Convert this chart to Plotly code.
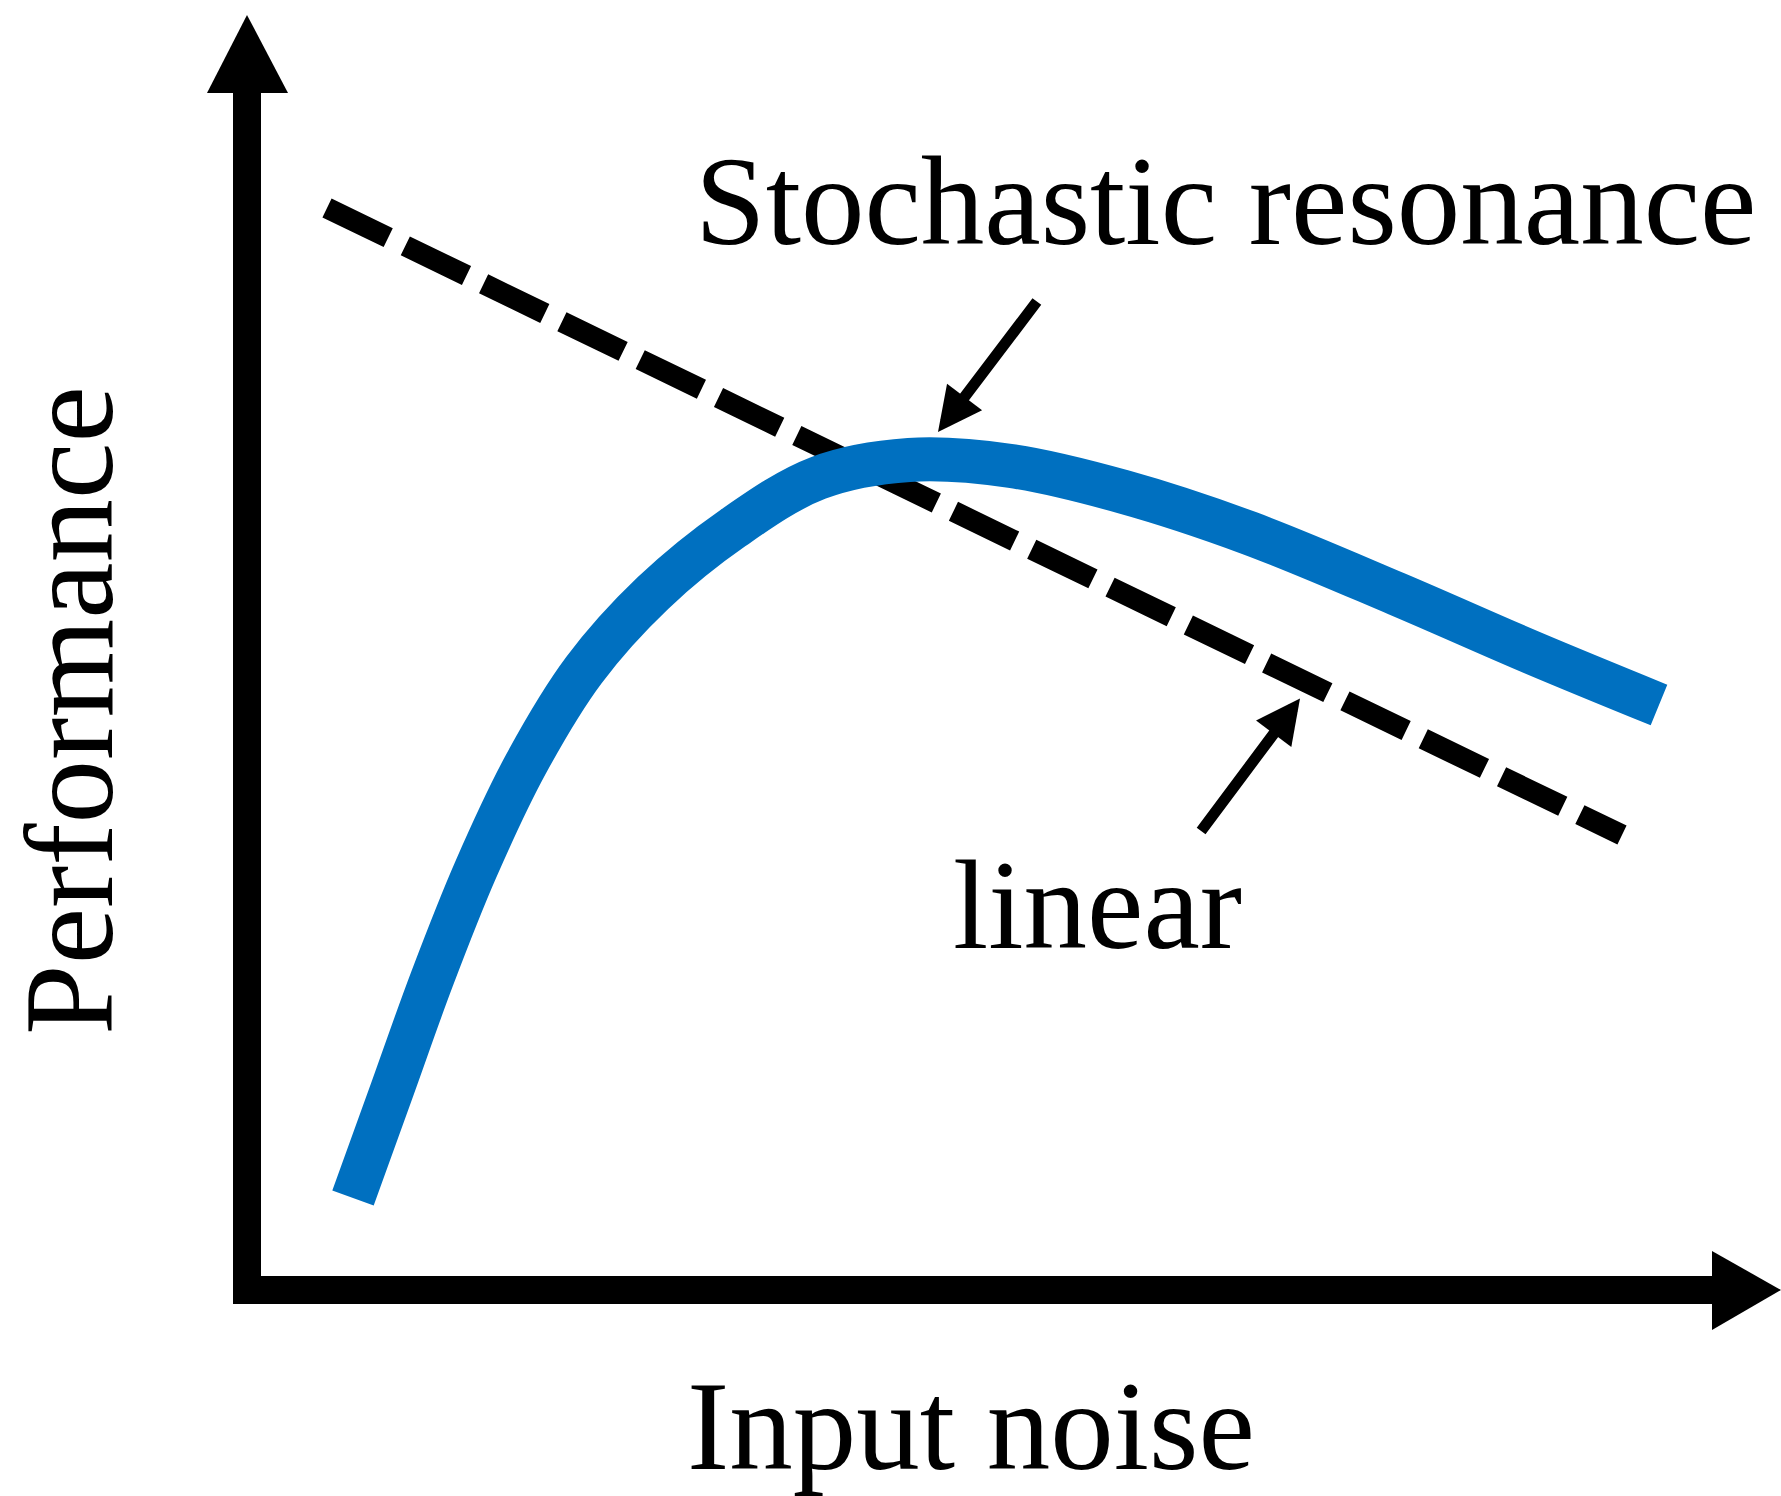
import plotly.graph_objects as go

# ---- data (noise, performance) in chart units ----
noise_sr = [1.06, 1.45, 1.85, 2.29, 2.79, 3.37, 4.06, 4.86, 5.71, 6.62,
            7.64, 8.77, 10.02, 11.50, 12.86, 14.12]
perf_sr = [0.92, 2.00, 3.11, 4.21, 5.26, 6.20, 6.97, 7.62, 8.12, 8.30,
           8.24, 7.98, 7.57, 6.96, 6.37, 5.85]
noise_lin = [0.80, 13.75]
perf_lin = [10.82, 4.55]

label_sr = "Stochastic resonance"
label_lin = "linear"
x_title = "Input noise"
y_title = "Performance"

W, H = 1781, 1496
X_RANGE = [-2.47, 15.34]
Y_RANGE = [-2.06, 12.90]

BLUE = "#0070C0"
FONT = "Liberation Serif, Times New Roman, serif"

fig = go.Figure()
fig.add_trace(go.Scatter(x=noise_lin, y=perf_lin, mode="lines",
                         line=dict(color="black", width=21, dash="68px,19px"),
                         hoverinfo="skip"))
fig.add_trace(go.Scatter(x=noise_sr, y=perf_sr, mode="lines",
                         line=dict(color=BLUE, width=44, shape="spline", smoothing=1.0,
                                   simplify=False),
                         hoverinfo="skip"))

# ---- axis arrows (shapes) ----
hw = 0.14  # half shaft width
shapes = [
    dict(type="rect", xref="x", yref="y", x0=-hw, x1=hw, y0=-hw, y1=11.97,
         fillcolor="black", line=dict(width=0)),
    dict(type="rect", xref="x", yref="y", x0=-hw, x1=14.65, y0=-hw, y1=hw,
         fillcolor="black", line=dict(width=0)),
    dict(type="path", xref="x", yref="y",
         path="M -0.40 11.97 L 0.41 11.97 L 0.0 12.75 Z",
         fillcolor="black", line=dict(width=0)),
    dict(type="path", xref="x", yref="y",
         path="M 14.65 0.39 L 14.65 -0.40 L 15.34 0.0 Z",
         fillcolor="black", line=dict(width=0)),
]

txt_font = dict(family=FONT, size=127, color="black")
annotations = [
    dict(x=9.78, y=10.89, text=label_sr, showarrow=False, xref="x", yref="y",
         xanchor="center", yanchor="middle", font=txt_font),
    dict(x=8.50, y=3.855, text=label_lin, showarrow=False, xref="x", yref="y",
         xanchor="center", yanchor="middle", font=txt_font),
    dict(x=7.24, y=-1.36, text=x_title, showarrow=False, xref="x", yref="y",
         xanchor="center", yanchor="middle", font=txt_font),
    dict(x=-1.78, y=5.79, text=y_title, showarrow=False, xref="x", yref="y", textangle=-90,
         xanchor="center", yanchor="middle", font=txt_font),
    # pointer arrows
    dict(x=6.91, y=8.58, ax=7.91, ay=9.90, xref="x", yref="y", axref="x", ayref="y",
         text="", showarrow=True, arrowhead=2, arrowsize=0.8, arrowwidth=11,
         arrowcolor="black", standoff=0),
    dict(x=10.53, y=5.915, ax=9.53, ay=4.575, xref="x", yref="y", axref="x", ayref="y",
         text="", showarrow=True, arrowhead=2, arrowsize=0.8, arrowwidth=11,
         arrowcolor="black", standoff=0),
]

fig.update_layout(
    width=W, height=H,
    margin=dict(l=0, r=0, t=0, b=0, pad=0),
    paper_bgcolor="white", plot_bgcolor="white",
    showlegend=False,
    xaxis=dict(range=X_RANGE, visible=False, fixedrange=True),
    yaxis=dict(range=Y_RANGE, visible=False, fixedrange=True),
    shapes=shapes, annotations=annotations,
)

fig.write_html("out.html", config={"displayModeBar": False},
               post_script="document.body.style.margin='0';document.body.style.overflow='hidden';")
